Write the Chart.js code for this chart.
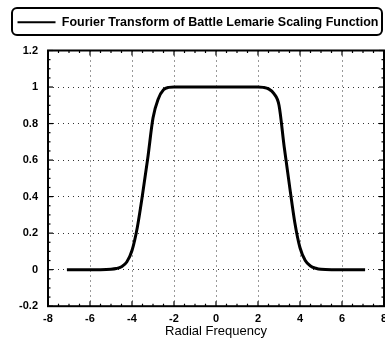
<!DOCTYPE html>
<html>
<head>
<meta charset="utf-8">
<script src="https://cdn.jsdelivr.net/npm/chart.js@4/dist/chart.umd.min.js"></script>
<style>
html,body{margin:0;padding:0;background:#fff;}
#wrap{width:385px;height:358px;}
</style>
</head>
<body>
<div id="wrap"><canvas id="c" width="385" height="358"></canvas></div>
<script>
const seriesLabel = 'Fourier Transform of Battle Lemarie Scaling Function';
const xLabelText = 'Radial Frequency';
const freq = [-7.1,-6.5,-6,-5.5,-5,-4.75,-4.5,-4.25,-4,-3.75,-3.5,-3.25,-3,-2.75,-2.5,-2.25,-2,-1.5,-1,-0.5,0,0.5,1,1.5,2,2.25,2.5,2.75,3,3.25,3.5,3.75,4,4.25,4.5,4.75,5,5.5,6,6.5,7.1];
const magnitude = [0,0,0,0,0.002,0.006,0.016,0.042,0.105,0.23,0.41,0.61,0.83,0.935,0.985,0.998,1,1,1,1,1,1,1,1,1,0.998,0.99,0.965,0.9,0.67,0.46,0.26,0.12,0.05,0.02,0.008,0.002,0,0,0,0];
const xTicks = [-8,-6,-4,-2,0,2,4,6,8];
const yTicks = [-0.2,0,0.2,0.4,0.6,0.8,1,1.2];

const points = freq.map((f,i)=>({x:f,y:magnitude[i]}));

const frame = {
  id:'frame',
  beforeLayout(chart){
    const lg=chart.legend;
    if(lg && !lg._patched){
      const f=lg.fit;
      lg.fit=function(){ f.call(this); this.height+=12; };
      lg._patched=true;
    }
  },
  afterLayout(chart){
    const lg=chart.legend;
    if(lg){ lg.left+=6; lg.right+=6; }
  },
  afterDatasetsDraw(chart){
    const {ctx, chartArea:a, scales} = chart;
    ctx.save();
    ctx.strokeStyle='#000';
    ctx.lineWidth=1.2;
    const xs=scales.x, ys=scales.y;
    for(let v=-8; v<=8.001; v+=0.5){
      const p=xs.getPixelForValue(v);
      const major=Math.abs(v/2-Math.round(v/2))<1e-6;
      const L=major?5:2.5;
      ctx.beginPath();ctx.moveTo(p,a.bottom);ctx.lineTo(p,a.bottom-L);ctx.stroke();
      ctx.beginPath();ctx.moveTo(p,a.top);ctx.lineTo(p,a.top+L);ctx.stroke();
    }
    for(let k=-4; k<=24; k++){
      const v=k*0.05;
      const p=ys.getPixelForValue(v);
      const major=k%4===0;
      const L=major?5:2.5;
      ctx.beginPath();ctx.moveTo(a.left,p);ctx.lineTo(a.left+L,p);ctx.stroke();
      ctx.beginPath();ctx.moveTo(a.right,p);ctx.lineTo(a.right-L,p);ctx.stroke();
    }
    ctx.lineWidth=2;
    ctx.strokeRect(a.left,a.top,a.right-a.left,a.bottom-a.top);
    ctx.restore();
  },
  afterDraw(chart){
    const ctx=chart.ctx;
    ctx.save();
    ctx.strokeStyle='#000';
    ctx.lineWidth=2;
    ctx.beginPath();
    ctx.roundRect(12,8,370,27,5);
    ctx.stroke();
    ctx.restore();
  }
};

new Chart(document.getElementById('c'),{
  type:'line',
  data:{datasets:[{
    label:seriesLabel,
    data:points,
    borderColor:'#000',
    backgroundColor:'#000',
    borderWidth:3,
    pointRadius:0,
    cubicInterpolationMode:'monotone',
    fill:false
  }]},
  options:{
    responsive:false,
    animation:false,
    layout:{padding:{left:0,right:1,top:-2,bottom:19}},
    plugins:{
      legend:{
        display:true,
        position:'top',
        labels:{
          color:'#000',
          font:{family:'Liberation Sans, Arial, sans-serif',size:12.5,weight:'bold'},
          boxWidth:38,
          boxHeight:2,
          padding:18,
          generateLabels(chart){
            return [{text:seriesLabel,fillStyle:'#000',strokeStyle:'#000',lineWidth:0,hidden:false,datasetIndex:0,fontColor:'#000'}];
          }
        }
      },
      tooltip:{enabled:false}
    },
    scales:{
      x:{
        type:'linear',
        min:-8,max:8,
        afterBuildTicks(s){s.ticks=xTicks.map(v=>({value:v}));},
        afterFit(s){s.paddingLeft=0;s.paddingRight=0;},
        grid:{color:'#333',lineWidth:1,drawTicks:false},
        border:{display:false,dash:[1,4]},
        ticks:{color:'#000',padding:6,maxRotation:0,font:{family:'Liberation Sans, Arial, sans-serif',size:11,weight:'bold'}},
        title:{display:true,text:xLabelText,color:'#000',padding:{top:-8,bottom:0},font:{family:'Liberation Sans, Arial, sans-serif',size:13}}
      },
      y:{
        min:-0.2,max:1.2,
        afterBuildTicks(s){s.ticks=yTicks.map(v=>({value:v}));},
        afterFit(s){s.width=48;},
        grid:{color:'#333',lineWidth:1,drawTicks:false},
        border:{display:false,dash:[1,4]},
        ticks:{color:'#000',padding:10,font:{family:'Liberation Sans, Arial, sans-serif',size:11,weight:'bold'},
          callback:(v)=>String(Math.round(v*10)/10)}
      }
    }
  },
  plugins:[frame]
});
</script>
</body>
</html>
